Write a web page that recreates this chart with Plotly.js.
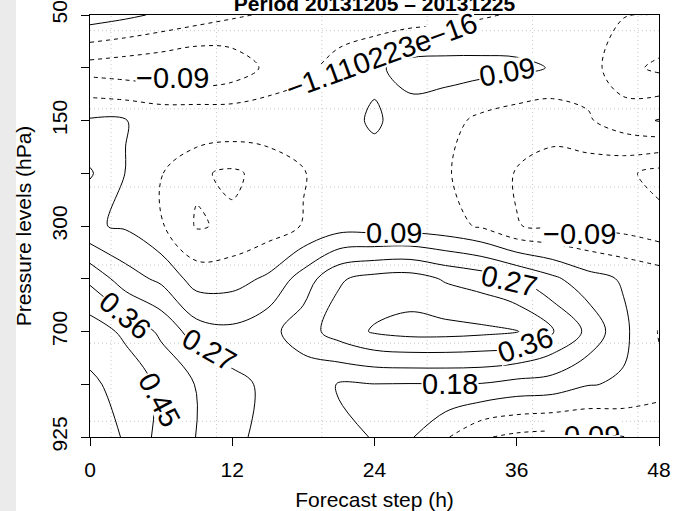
<!DOCTYPE html>
<html>
<head>
<meta charset="utf-8">
<script src="https://cdn.plot.ly/plotly-3.0.1.min.js"></script>
<style>
  html, body { margin: 0; padding: 0; background: #ffffff; }
  #chart { width: 673px; height: 511px; }
</style>
</head>
<body>
<div id="chart"></div>
<script>
// Forecast steps (hours) and pressure levels (hPa) of the grid
const forecastSteps = [0, 3, 6, 9, 12, 15, 18, 21, 24, 27, 30, 33, 36, 39, 42, 45, 48];
const pressureLevels = [50, 100, 150, 200, 300, 500, 700, 850, 925];
const pressureTickText = ['50', '', '150', '', '300', '', '700', '', '925'];
const stepTicks = [0, 12, 24, 36, 48];

// Field values per pressure level, one value per forecast step
const z50  = [0.14, 0.11, 0.075, 0.045, 0.012, -0.01, -0.025, -0.05, -0.05, -0.04, -0.03, -0.01, 0.01, 0.015, 0.01, 0.004, -0.002];
const z100 = [-0.13, -0.145, -0.16, -0.183, -0.15, -0.07, -0.02, 0.03, 0.075, 0.12, 0.125, 0.12, 0.11, 0.085, 0.04, -0.06, -0.11];
const z150 = [0.10, 0.092, 0.07, 0.08, 0.07, 0.06, 0.05, 0.065, 0.10, 0.058, 0.03, -0.02, -0.05, -0.06, -0.01, 0.05, 0.095];
const z200 = [0.19, 0.088, 0.005, -0.078, -0.105, -0.06, -0.005, 0.04, 0.06, 0.05, 0.01, -0.05, -0.095, -0.12, -0.14, -0.16, -0.21];
const z300 = [0.10, 0.08, 0.01, -0.098, -0.075, -0.045, 0.005, 0.05, 0.045, 0.045, 0.03, -0.01, -0.088, -0.10, -0.11, -0.12, -0.15];
const z500 = [0.34, 0.22, 0.16, 0.05, 0.055, 0.105, 0.22, 0.35, 0.39, 0.40, 0.35, 0.32, 0.27, 0.20, 0.125, 0.08, 0.05];
const z700 = [0.50, 0.43, 0.343, 0.22, 0.20, 0.24, 0.32, 0.40, 0.46, 0.48, 0.48, 0.47, 0.455, 0.365, 0.25, 0.11, -0.005];
const z850 = [0.555, 0.51, 0.43, 0.355, 0.30, 0.25, 0.205, 0.176, 0.178, 0.176, 0.177, 0.175, 0.15, 0.14, 0.095, 0.08, 0.02];
const z925 = [0.60, 0.53, 0.42, 0.358, 0.29, 0.245, 0.22, 0.19, 0.178, 0.10, 0.01, -0.08, -0.11, -0.12, -0.11, -0.095, -0.04];

// Contour levels: negative ones dashed, the rest solid
const negativeLevels = [-0.18, -0.09, -1.110223e-16];
const positiveLevels = [0.09, 0.18, 0.27, 0.36, 0.45, 0.54];

const fieldRows = [z50, z100, z150, z200, z300, z500, z700, z850, z925];
const levelIndex = pressureLevels.map((p, i) => i);

const FONT = 'Liberation Sans, Arial, Helvetica, sans-serif';

function contourTrace(levels, dash) {
  return {
    type: 'contour',
    x: forecastSteps,
    y: levelIndex,
    z: fieldRows,
    autocontour: false,
    contours: {
      coloring: 'lines',
      start: levels[0],
      end: levels[levels.length - 1],
      size: 0.09,
      showlabels: false
    },
    colorscale: [[0, '#000000'], [1, '#000000']],
    showscale: false,
    line: { width: 1, dash: dash, smoothing: 1 },
    hoverinfo: 'skip'
  };
}

function formatLevel(v) {
  return String(v).replace(/-/g, '\u2212');
}

// Where each contour label sits (forecast step, level index) and its tilt
const labelPlacement = [
  { level: negativeLevels[1], h: 6.96, p: 1.20, angle: 0 },
  { level: negativeLevels[2], h: 24.55, p: 0.77, angle: -20 },
  { level: positiveLevels[0], h: 35.18, p: 1.08, angle: -10 },
  { level: positiveLevels[0], h: 25.65, p: 4.14, angle: 0 },
  { level: negativeLevels[1], h: 41.3, p: 4.16, angle: 0 },
  { level: positiveLevels[2], h: 35.35, p: 5.04, angle: 13 },
  { level: positiveLevels[3], h: 36.7, p: 6.25, angle: -19 },
  { level: positiveLevels[1], h: 30.37, p: 7.0, angle: 0 },
  { level: positiveLevels[3], h: 2.91, p: 5.69, angle: 40 },
  { level: positiveLevels[2], h: 10.08, p: 6.35, angle: 30 },
  { level: positiveLevels[4], h: 5.86, p: 7.30, angle: 62 }
];

const labelFont = { family: FONT, size: 29, color: '#000000' };

const annotations = labelPlacement.map(l => ({
  xref: 'x', yref: 'y', x: l.h, y: l.p,
  text: formatLevel(l.level),
  textangle: l.angle,
  showarrow: false,
  font: labelFont,
  bgcolor: '#ffffff',
  borderpad: 0,
  height: 24,
  xanchor: 'center', yanchor: 'middle'
}));

// Label sitting on the lower edge, cut by the frame
annotations.push({
  xref: 'x', yref: 'y', x: 41.6, y: levelIndex[levelIndex.length - 1],
  yshift: 1,
  text: formatLevel(negativeLevels[1]),
  showarrow: false,
  font: labelFont,
  bgcolor: '#ffffff',
  borderpad: 0,
  height: 15,
  valign: 'top',
  xanchor: 'center', yanchor: 'bottom'
});

// Dotted reference grid and the grey strip at the left edge
const shapes = [];
for (let k = 0; k < 6; k++) {
  const f = (5 * k + 1) / 27;
  const dotted = { color: '#c8c8c8', width: 1, dash: '1px,3px' };
  shapes.push({ type: 'line', xref: 'paper', yref: 'paper', x0: f, x1: f, y0: 0, y1: 1, line: dotted, layer: 'below' });
  shapes.push({ type: 'line', xref: 'paper', yref: 'paper', x0: 0, x1: 1, y0: f, y1: f, line: dotted, layer: 'below' });
}
shapes.push({
  type: 'rect', xref: 'paper', yref: 'paper',
  x0: -90 / 569, x1: -74 / 569, y0: -74 / 422, y1: 1 + 15 / 422,
  fillcolor: '#ebebeb', line: { width: 0 }, layer: 'below'
});

const axisCommon = {
  showline: true, linecolor: '#000000', linewidth: 1, mirror: true,
  ticks: 'outside', ticklen: 8, tickwidth: 1, tickcolor: '#000000',
  showgrid: false, zeroline: false,
  tickfont: { family: FONT, size: 21, color: '#000000' }
};

const layout = {
  width: 673, height: 511,
  margin: { l: 90, r: 14, t: 15, b: 74, pad: 0 },
  paper_bgcolor: '#ffffff', plot_bgcolor: '#ffffff',
  showlegend: false,
  title: {
    text: '<b>Period 20131205 \u2013 20131225</b>',
    font: { family: FONT, size: 21, color: '#000000' },
    xref: 'paper', x: 0.5, xanchor: 'center',
    yref: 'container', y: 1 - 3.2 / 511, yanchor: 'middle'
  },
  xaxis: Object.assign({}, axisCommon, {
    range: [0, 48], tickmode: 'array', tickvals: stepTicks, ticktext: stepTicks.map(String),
    ticklabelstandoff: 6,
    title: { text: 'Forecast step (h)', font: { family: FONT, size: 21, color: '#000000' }, standoff: 14 }
  }),
  yaxis: Object.assign({}, axisCommon, {
    range: [levelIndex.length - 1, 0], tickmode: 'array', tickvals: levelIndex, ticktext: pressureTickText,
    tickangle: -90, ticklabelstandoff: 6,
    title: { text: 'Pressure levels (hPa)', font: { family: FONT, size: 21, color: '#000000' }, standoff: 10 }
  }),
  shapes: shapes,
  annotations: annotations
};

Plotly.newPlot('chart', [
  contourTrace(negativeLevels, '4px,4px'),
  contourTrace(positiveLevels, 'solid')
], layout, { staticPlot: true, displayModeBar: false });
</script>
</body>
</html>
